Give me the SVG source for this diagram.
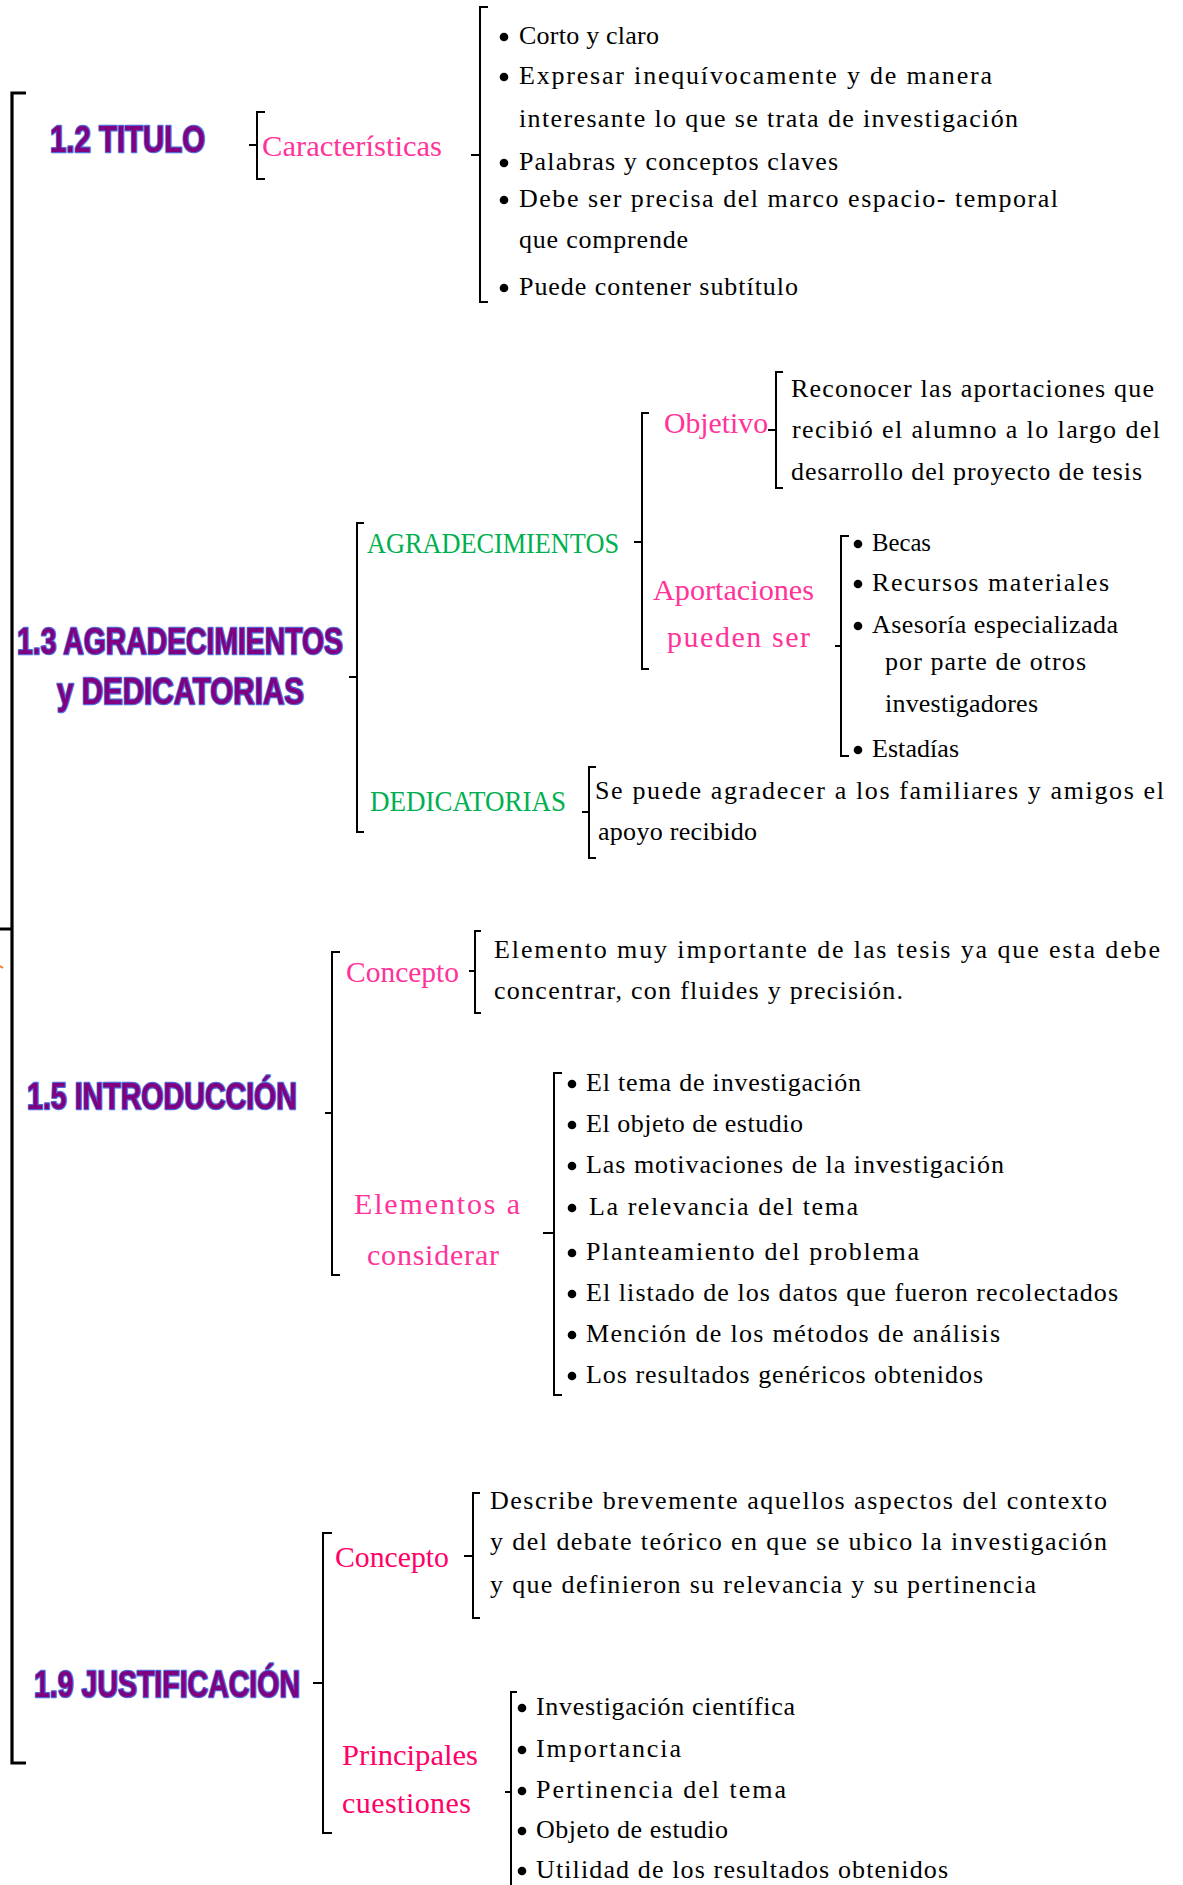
<svg xmlns="http://www.w3.org/2000/svg" width="1183" height="1885" viewBox="0 0 1183 1885">
<style>
.t{font-family:"Liberation Serif","DejaVu Serif",serif;font-size:26px;fill:#000}
.p{font-family:"Liberation Serif","DejaVu Serif",serif;font-size:30px;fill:#FF3399}
.q{font-family:"Liberation Serif","DejaVu Serif",serif;font-size:30px;fill:#FF0066}
.g{font-family:"Liberation Serif","DejaVu Serif",serif;font-size:30px;fill:#00B050}
.h{font-family:"Liberation Sans","DejaVu Sans",sans-serif;font-weight:bold;font-size:36px;fill:#800080;stroke:#5068D8;stroke-width:2.5;paint-order:stroke;stroke-linejoin:round}
.br{fill:none;stroke:#000;stroke-width:2}
.bb{fill:none;stroke:#000;stroke-width:3.2}
.d{fill:#000}
</style>
<g id="connectors">
<path class="bb" d="M26 93 L12 93 L12 1763 L26 1763 M12 929 L0 929"/>
<path d="M0 966 L3 968" stroke="#F08030" stroke-width="2"/>
<path class="br" d="M265 112 L257 112 L257 179 L265 179 M257 145 L249 145"/>
<path class="br" d="M488 7 L480 7 L480 302 L488 302 M480 155 L471 155"/>
<path class="br" d="M364 523 L357 523 L357 832 L364 832 M357 677 L349 677"/>
<path class="br" d="M649 413 L642 413 L642 669 L649 669 M642 542 L634 542"/>
<path class="br" d="M783 372 L776 372 L776 488 L783 488 M776 430 L768 430"/>
<path class="br" d="M849 536 L841 536 L841 756 L849 756 M841 646 L835 646"/>
<path class="br" d="M596 767 L589 767 L589 858 L596 858 M589 812 L582 812"/>
<path class="br" d="M340 952 L332 952 L332 1275 L340 1275 M332 1113 L325 1113"/>
<path class="br" d="M481 931 L475 931 L475 1013 L481 1013 M475 971 L469 971"/>
<path class="br" d="M562 1073 L554 1073 L554 1395 L562 1395 M554 1233 L543 1233"/>
<path class="br" d="M332 1533 L323 1533 L323 1833 L332 1833 M323 1683 L313 1683"/>
<path class="br" d="M480 1493 L473 1493 L473 1618 L480 1618 M473 1556 L464 1556"/>
<path class="br" d="M517 1692 L511 1692 L511 1890 M511 1792 L505 1792"/>
</g>
<g id="titulo">
<text class="h" x="50" y="152" font-size="39" textLength="155" lengthAdjust="spacingAndGlyphs">1.2 TITULO</text>
</g>
<g id="caracteristicas">
<text class="p" x="262" y="156" textLength="180" lengthAdjust="spacingAndGlyphs">Características</text>
</g>
<g id="caracteristicas-lista">
<circle class="d" cx="504" cy="37" r="4.3"/>
<circle class="d" cx="504" cy="77" r="4.3"/>
<circle class="d" cx="504" cy="163" r="4.3"/>
<circle class="d" cx="504" cy="200" r="4.3"/>
<circle class="d" cx="504" cy="288" r="4.3"/>
<text class="t" x="519" y="44" textLength="140" lengthAdjust="spacing">Corto y claro</text>
<text class="t" x="519" y="84" textLength="473" lengthAdjust="spacing">Expresar inequívocamente y de manera</text>
<text class="t" x="519" y="127" textLength="499" lengthAdjust="spacing">interesante lo que se trata de investigación</text>
<text class="t" x="519" y="170" textLength="319" lengthAdjust="spacing">Palabras y conceptos claves</text>
<text class="t" x="519" y="207" textLength="539" lengthAdjust="spacing">Debe ser precisa del marco espacio- temporal</text>
<text class="t" x="519" y="248" textLength="169" lengthAdjust="spacing">que comprende</text>
<text class="t" x="519" y="295" textLength="279" lengthAdjust="spacing">Puede contener subtítulo</text>
</g>
<g id="agradecimientos-dedicatorias">
<text class="h" x="17" y="654" textLength="326" lengthAdjust="spacingAndGlyphs">1.3 AGRADECIMIENTOS</text>
<text class="h" x="57" y="704" textLength="247" lengthAdjust="spacingAndGlyphs">y DEDICATORIAS</text>
</g>
<g id="agradecimientos">
<text class="g" x="367" y="553" textLength="252" lengthAdjust="spacingAndGlyphs">AGRADECIMIENTOS</text>
</g>
<g id="objetivo">
<text class="p" x="664" y="433" textLength="104" lengthAdjust="spacingAndGlyphs">Objetivo</text>
</g>
<g id="objetivo-texto">
<text class="t" x="791" y="397" textLength="363" lengthAdjust="spacing">Reconocer las aportaciones que</text>
<text class="t" x="792" y="438" textLength="368" lengthAdjust="spacing">recibió el alumno a lo largo del</text>
<text class="t" x="791" y="480" textLength="351" lengthAdjust="spacing">desarrollo del proyecto de tesis</text>
</g>
<g id="aportaciones">
<text class="p" x="653" y="600" textLength="161" lengthAdjust="spacingAndGlyphs">Aportaciones</text>
<text class="p" x="667" y="647" textLength="143" lengthAdjust="spacing">pueden ser</text>
</g>
<g id="aportaciones-lista">
<circle class="d" cx="858" cy="544" r="4.3"/>
<circle class="d" cx="858" cy="584" r="4.3"/>
<circle class="d" cx="858" cy="626" r="4.3"/>
<circle class="d" cx="858" cy="750" r="4.3"/>
<text class="t" x="872" y="551" textLength="59" lengthAdjust="spacingAndGlyphs">Becas</text>
<text class="t" x="872" y="591" textLength="237" lengthAdjust="spacing">Recursos materiales</text>
<text class="t" x="872" y="633" textLength="246" lengthAdjust="spacing">Asesoría especializada</text>
<text class="t" x="885" y="670" textLength="201" lengthAdjust="spacing">por parte de otros</text>
<text class="t" x="885" y="712" textLength="153" lengthAdjust="spacing">investigadores</text>
<text class="t" x="872" y="757" textLength="87" lengthAdjust="spacing">Estadías</text>
</g>
<g id="dedicatorias">
<text class="g" x="370" y="811" textLength="196" lengthAdjust="spacingAndGlyphs">DEDICATORIAS</text>
</g>
<g id="dedicatorias-texto">
<text class="t" x="595" y="799" textLength="569" lengthAdjust="spacing">Se puede agradecer a los familiares y amigos el</text>
<text class="t" x="598" y="840" textLength="159" lengthAdjust="spacing">apoyo recibido</text>
</g>
<g id="introduccion">
<text class="h" x="27" y="1109" textLength="270" lengthAdjust="spacingAndGlyphs">1.5 INTRODUCCIÓN</text>
</g>
<g id="intro-concepto">
<text class="p" x="346" y="982" textLength="113" lengthAdjust="spacingAndGlyphs">Concepto</text>
</g>
<g id="intro-concepto-texto">
<text class="t" x="494" y="958" textLength="666" lengthAdjust="spacing">Elemento muy importante de las tesis ya que esta debe</text>
<text class="t" x="494" y="999" textLength="409" lengthAdjust="spacing">concentrar, con fluides y precisión.</text>
</g>
<g id="elementos">
<text class="p" x="354" y="1214" textLength="166" lengthAdjust="spacing">Elementos  a</text>
<text class="p" x="367" y="1265" textLength="132" lengthAdjust="spacing">considerar</text>
</g>
<g id="elementos-lista">
<circle class="d" cx="572" cy="1084" r="4.3"/>
<circle class="d" cx="572" cy="1125" r="4.3"/>
<circle class="d" cx="572" cy="1166" r="4.3"/>
<circle class="d" cx="572" cy="1208" r="4.3"/>
<circle class="d" cx="572" cy="1253" r="4.3"/>
<circle class="d" cx="572" cy="1294" r="4.3"/>
<circle class="d" cx="572" cy="1335" r="4.3"/>
<circle class="d" cx="572" cy="1376" r="4.3"/>
<text class="t" x="586" y="1091" textLength="275" lengthAdjust="spacing">El tema de investigación</text>
<text class="t" x="586" y="1132" textLength="217" lengthAdjust="spacing">El objeto de estudio</text>
<text class="t" x="586" y="1173" textLength="418" lengthAdjust="spacing">Las motivaciones de la investigación</text>
<text class="t" x="589" y="1215" textLength="269" lengthAdjust="spacing">La relevancia del tema</text>
<text class="t" x="586" y="1260" textLength="333" lengthAdjust="spacing">Planteamiento del problema</text>
<text class="t" x="586" y="1301" textLength="532" lengthAdjust="spacing">El listado de los datos que fueron recolectados</text>
<text class="t" x="586" y="1342" textLength="414" lengthAdjust="spacing">Mención de los métodos de análisis</text>
<text class="t" x="586" y="1383" textLength="397" lengthAdjust="spacing">Los resultados genéricos obtenidos</text>
</g>
<g id="justificacion">
<text class="h" x="34" y="1697" textLength="266" lengthAdjust="spacingAndGlyphs">1.9 JUSTIFICACIÓN</text>
</g>
<g id="just-concepto">
<text class="q" x="335" y="1567" textLength="114" lengthAdjust="spacingAndGlyphs">Concepto</text>
</g>
<g id="just-concepto-texto">
<text class="t" x="490" y="1509" textLength="617" lengthAdjust="spacing">Describe brevemente aquellos aspectos del contexto</text>
<text class="t" x="490" y="1550" textLength="617" lengthAdjust="spacing">y del debate teórico en que se ubico la investigación</text>
<text class="t" x="490" y="1593" textLength="546" lengthAdjust="spacing">y que definieron su relevancia y su pertinencia</text>
</g>
<g id="principales">
<text class="q" x="342" y="1765" textLength="136" lengthAdjust="spacingAndGlyphs">Principales</text>
<text class="q" x="342" y="1813" textLength="129" lengthAdjust="spacing">cuestiones</text>
</g>
<g id="principales-lista">
<circle class="d" cx="522" cy="1708" r="4.3"/>
<circle class="d" cx="522" cy="1750" r="4.3"/>
<circle class="d" cx="522" cy="1791" r="4.3"/>
<circle class="d" cx="522" cy="1831" r="4.3"/>
<circle class="d" cx="522" cy="1871" r="4.3"/>
<text class="t" x="536" y="1715" textLength="259" lengthAdjust="spacing">Investigación  científica</text>
<text class="t" x="536" y="1757" textLength="145" lengthAdjust="spacing">Importancia</text>
<text class="t" x="536" y="1798" textLength="250" lengthAdjust="spacing">Pertinencia del tema</text>
<text class="t" x="536" y="1838" textLength="192" lengthAdjust="spacing">Objeto de estudio</text>
<text class="t" x="536" y="1878" textLength="412" lengthAdjust="spacing">Utilidad de los resultados obtenidos</text>
</g>
</svg>
